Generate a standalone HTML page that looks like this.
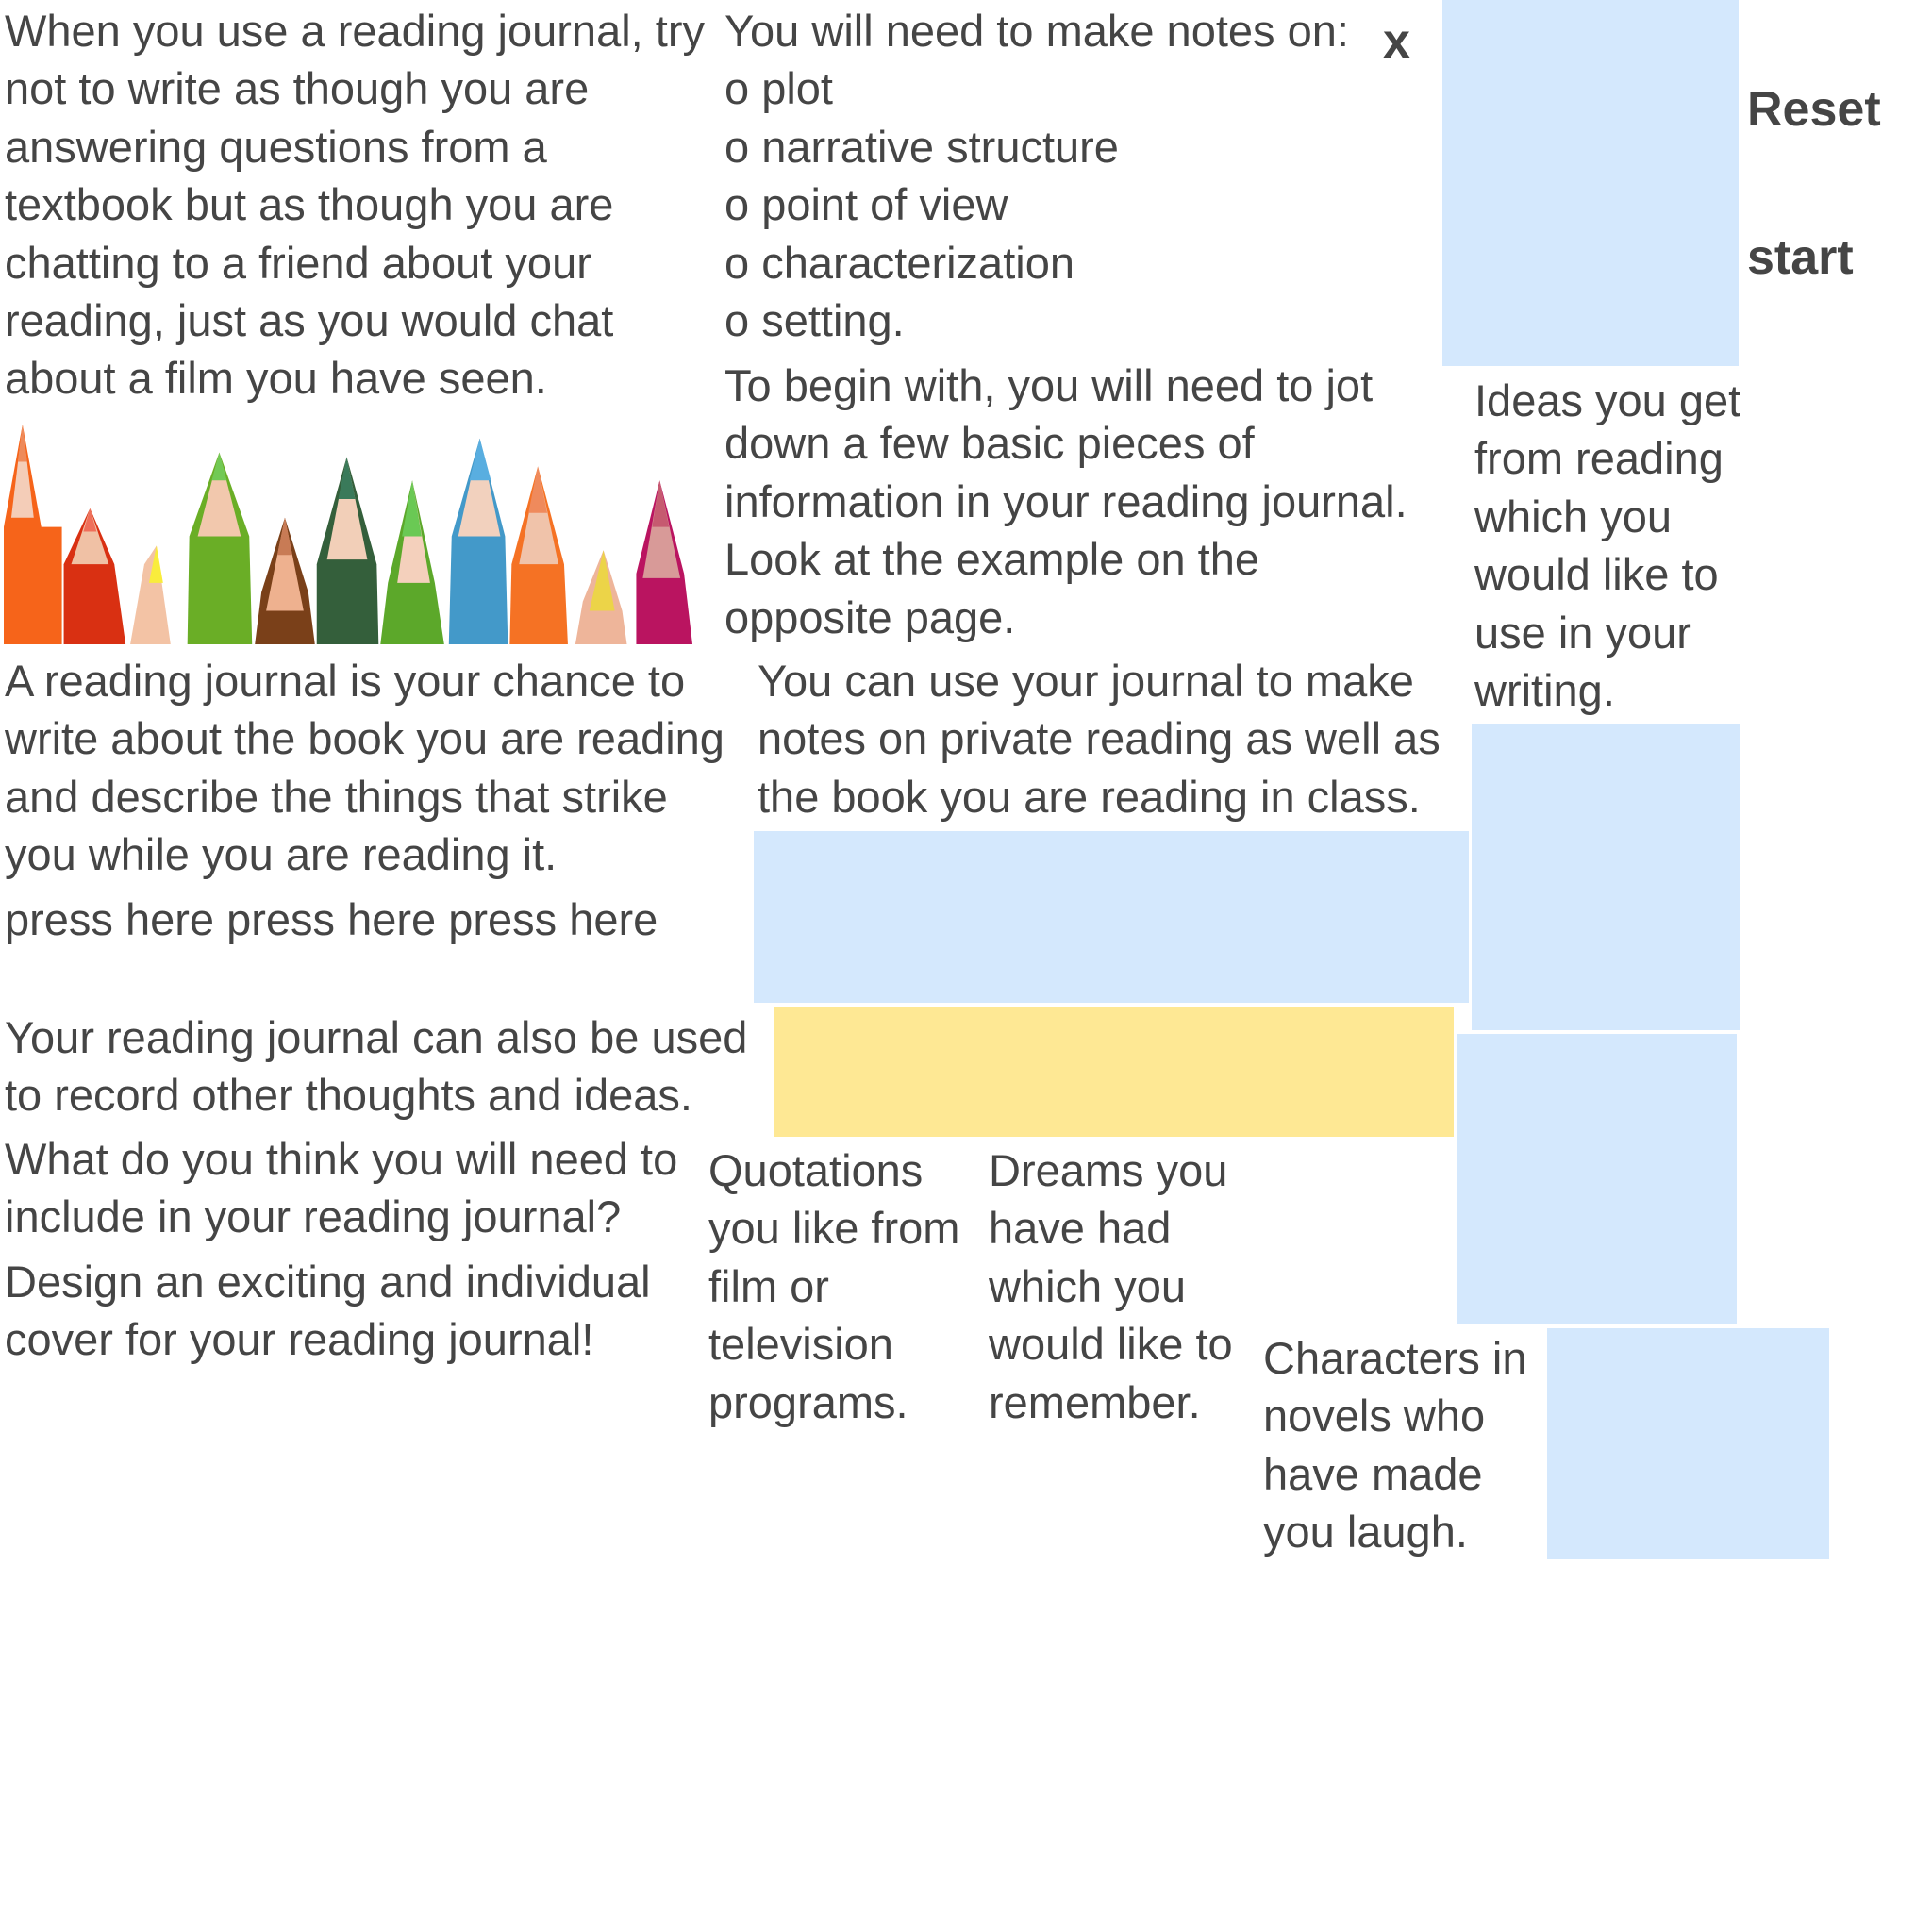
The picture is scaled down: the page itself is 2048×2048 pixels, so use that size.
<!DOCTYPE html>
<html><head><meta charset="utf-8"><style>
body{margin:0;width:2048px;height:2048px;background:#fff;position:relative;overflow:hidden;font-family:"Liberation Sans",sans-serif;color:#454545}
.t{position:absolute;font-size:47px;line-height:61.4px;white-space:nowrap;letter-spacing:0px}
.r{position:absolute}
.b{background:#d4e8fd}
</style></head><body>
<div class="t" style="left:5px;top:2px">When you use a reading journal, try<br>not to write as though you are<br>answering questions from a<br>textbook but as though you are<br>chatting to a friend about your<br>reading, just as you would chat<br>about a film you have seen.</div>
<svg class="r" style="left:4px;top:450px" width="735" height="233" viewBox="0 0 740 236" preserveAspectRatio="none">
<g>
<polygon points="0,236 0,110 20,0 40,110 62,110 62,236" fill="#f6641a"/><polygon points="8,100 20,0 32,100" fill="#f4cdb8"/><polygon points="15,40 20,0 25,40" fill="#ee8a5a"/>
<polygon points="64,236 64,150 92,90 118,150 130,236" fill="#d93012"/><polygon points="72,150 92,90 112,150" fill="#f0c1a5"/><polygon points="85,115 92,90 99,115" fill="#ef6f5a"/>
<polygon points="135,236 150,150 163,130 178,236" fill="#f3c3a5"/><polygon points="155,170 163,130 170,170" fill="#f9ec3c"/>
<polygon points="196,236 198,120 230,30 262,120 265,236" fill="#6aae26"/><polygon points="207,120 230,30 253,120" fill="#f2c8ad"/><polygon points="222,60 230,30 238,60" fill="#72c955"/>
<polygon points="268,236 275,180 300,100 325,180 332,236" fill="#7a4019"/><polygon points="280,200 300,100 320,200" fill="#eeb18f"/><polygon points="292,140 300,100 308,140" fill="#c87b55"/>
<polygon points="334,236 334,150 366,35 398,150 400,236" fill="#345f3b"/><polygon points="345,145 366,35 388,145" fill="#f2cfb8"/><polygon points="357,80 366,35 375,80" fill="#3a7a5a"/>
<polygon points="402,236 410,170 436,60 460,170 470,236" fill="#5ca82a"/><polygon points="420,170 436,60 455,170" fill="#f4d0bc"/><polygon points="425,120 436,60 446,120" fill="#6ac954"/>
<polygon points="475,236 478,120 508,15 535,120 538,236" fill="#4399c9"/><polygon points="485,120 508,15 530,120" fill="#f2d1be"/><polygon points="497,60 508,15 520,60" fill="#59aee0"/>
<polygon points="540,236 542,150 570,45 598,150 602,236" fill="#f57224"/><polygon points="550,150 570,45 592,150" fill="#f0c3aa"/><polygon points="560,95 570,45 580,95" fill="#ef8a5c"/>
<polygon points="610,236 618,190 640,135 660,200 665,236" fill="#eeb59a"/><polygon points="625,200 640,135 652,200" fill="#ecd448"/>
<polygon points="675,236 675,160 700,60 726,160 735,236" fill="#ba1460"/><polygon points="682,165 700,60 722,165" fill="#d89a98"/><polygon points="692,110 700,60 710,110" fill="#c65a70"/>
</g></svg>
<div class="t" style="left:5px;top:691px">A reading journal is your chance to<br>write about the book you are reading<br>and describe the things that strike<br>you while you are reading it.</div>
<div class="t" style="left:5px;top:944px">press here press here press here</div>
<div class="t" style="left:5px;top:1069px">Your reading journal can also be used<br>to record other thoughts and ideas.</div>
<div class="t" style="left:5px;top:1198px">What do you think you will need to<br>include in your reading journal?</div>
<div class="t" style="left:5px;top:1328px">Design an exciting and individual<br>cover for your reading journal!</div>
<div class="t" style="left:768px;top:2px">You will need to make notes on:<br>o plot<br>o narrative structure<br>o point of view<br>o characterization<br>o setting.</div>
<div class="t" style="left:768px;top:378px">To begin with, you will need to jot<br>down a few basic pieces of<br>information in your reading journal.<br>Look at the example on the<br>opposite page.</div>
<div class="t" style="left:803px;top:691px">You can use your journal to make<br>notes on private reading as well as<br>the book you are reading in class.</div>
<div class="t" style="left:1466px;top:14px;font-weight:bold;font-size:52px">x</div>
<div class="r b" style="left:1529px;top:0;width:314px;height:388px"></div>
<div class="t" style="left:1852px;top:86px;font-weight:bold;font-size:52px">Reset</div>
<div class="t" style="left:1852px;top:243px;font-weight:bold;font-size:52px">start</div>
<div class="t" style="left:1563px;top:394px">Ideas you get<br>from reading<br>which you<br>would like to<br>use in your<br>writing.</div>
<div class="r b" style="left:1560px;top:768px;width:284px;height:324px"></div>
<div class="r b" style="left:799px;top:881px;width:758px;height:182px"></div>
<div class="r" style="left:821px;top:1067px;width:720px;height:138px;background:#fee894"></div>
<div class="r b" style="left:1544px;top:1096px;width:297px;height:308px"></div>
<div class="r b" style="left:1640px;top:1408px;width:299px;height:245px"></div>
<div class="t" style="left:751px;top:1210px">Quotations<br>you like from<br>film or<br>television<br>programs.</div>
<div class="t" style="left:1048px;top:1210px">Dreams you<br>have had<br>which you<br>would like to<br>remember.</div>
<div class="t" style="left:1339px;top:1409px">Characters in<br>novels who<br>have made<br>you laugh.</div>
</body></html>
